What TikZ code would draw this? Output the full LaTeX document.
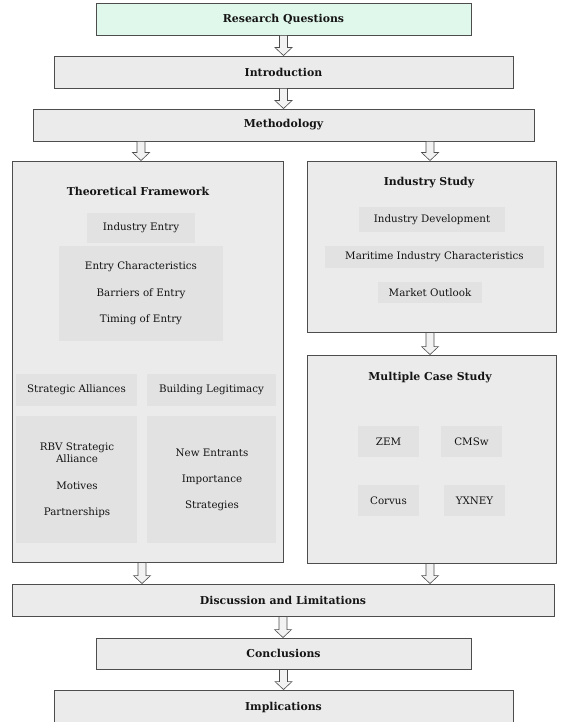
\documentclass[tikz,border=0pt]{standalone}
\usepackage{fontspec}
\setmainfont{DejaVu Serif}
\usetikzlibrary{calc}
\definecolor{boxfill}{HTML}{EBEBEB}
\definecolor{innerfill}{HTML}{E2E2E2}
\definecolor{boxline}{HTML}{4D4D4D}
\definecolor{rqfill}{HTML}{E0F7EB}
\definecolor{txt}{HTML}{141414}
\definecolor{arrfill}{HTML}{F2F2F2}
\begin{document}
\begin{tikzpicture}[x=1pt,y=-1pt,
  box/.style={draw=boxline, line width=0.9pt, fill=boxfill, inner sep=0pt,
    font=\fontsize{10.9}{13}\selectfont\bfseries, text=txt},
  inner/.style={fill=innerfill, inner sep=0pt, font=\fontsize{10.3}{12}\selectfont, text=txt},
  lbl/.style={inner sep=0pt, font=\fontsize{10.3}{12}\selectfont, text=txt},
  ttl/.style={inner sep=0pt, font=\fontsize{10.9}{13}\selectfont\bfseries, text=txt},
  fatarrow/.style={draw=boxline, fill=arrfill, line width=0.6pt, line join=miter,
    to path={let \p1=(\tikztostart), \p2=(\tikztotarget) in
      (\x1-4pt,\y1) -- (\x1+4pt,\y1) -- (\x1+4pt,\y2+8pt) -- (\x1+8.5pt,\y2+8pt)
      -- (\x1,\y2) -- (\x1-8.5pt,\y2+8pt) -- (\x1-4pt,\y2+8pt) -- cycle}}
]
\useasboundingbox (0,0) rectangle (561,722);

% main column
\node[box, fill=rqfill, minimum width=375pt, minimum height=32pt] (rq) at (283.5,19) {Research Questions};
\node[box, minimum width=459pt, minimum height=32pt] (intro) at (283.5,72) {Introduction};
\node[box, minimum width=501pt, minimum height=32pt] (meth) at (283.5,125) {Methodology};

% theoretical framework
\node[box, minimum width=271pt, minimum height=401pt] (tf) at (147.5,361.5) {};
\node[ttl] (tft) at (138,191) {Theoretical Framework};
\node[inner, minimum width=108pt, minimum height=30pt] (ie) at (141,228) {Industry Entry};
\node[inner, minimum width=164pt, minimum height=95pt] (eg) at (141,293.5) {};
\node[lbl] (ec) at (141,267) {Entry Characteristics};
\node[lbl] (be) at (141,294) {Barriers of Entry};
\node[lbl] (te) at (141,320) {Timing of Entry};
\node[inner, minimum width=121pt, minimum height=32pt] (sa) at (76.5,390) {Strategic Alliances};
\node[inner, minimum width=129pt, minimum height=32pt] (bl) at (211.5,390) {Building Legitimacy};
\node[inner, minimum width=121pt, minimum height=127pt] (rbvbox) at (76.5,479.5) {};
\node[inner, minimum width=129pt, minimum height=127pt] (nebox) at (211.5,479.5) {};
\node[lbl, align=center, font=\fontsize{10.3}{12}\selectfont] (rbv) at (77,453) {RBV Strategic\\Alliance};
\node[lbl] (mot) at (77,486) {Motives};
\node[lbl] (par) at (77,513) {Partnerships};
\node[lbl] (ne) at (212,453) {New Entrants};
\node[lbl] (imp) at (212,480) {Importance};
\node[lbl] (str) at (212,506) {Strategies};

% industry study
\node[box, minimum width=249pt, minimum height=171pt] (is) at (431.5,246.5) {};
\node[ttl] (ist) at (429,183) {Industry Study};
\node[inner, minimum width=146pt, minimum height=25pt] (idv) at (432,219.5) {Industry Development};
\node[inner, minimum width=219pt, minimum height=22pt] (mic) at (434.5,257) {Maritime Industry Characteristics};
\node[inner, minimum width=104pt, minimum height=21pt] (mo) at (430,292.5) {Market Outlook};

% multiple case study
\node[box, minimum width=249pt, minimum height=208pt] (mcs) at (431.5,459) {};
\node[ttl] (mcst) at (430,378) {Multiple Case Study};
\node[inner, minimum width=61pt, minimum height=31pt] (zem) at (388.5,441.5) {ZEM};
\node[inner, minimum width=61pt, minimum height=31pt] (cms) at (471.5,441.5) {CMSw};
\node[inner, minimum width=61pt, minimum height=31pt] (cor) at (388.5,500.5) {Corvus};
\node[inner, minimum width=61pt, minimum height=31pt] (yx) at (474.5,500.5) {YXNEY};

% bottom column
\node[box, minimum width=542pt, minimum height=32pt] (disc) at (283,600) {Discussion and Limitations};
\node[box, minimum width=375pt, minimum height=31pt] (conc) at (283.5,653.5) {Conclusions};
\node[box, minimum width=459pt, minimum height=34pt] (impl) at (283.5,707) {Implications};

% arrows
\draw[fatarrow] (rq.south) to (intro.north);
\draw[fatarrow] (intro.south) to (meth.north);
\draw[fatarrow] ([xshift=-6.5pt]tf.north |- meth.south) to (tf.north);
\draw[fatarrow] ([xshift=-1.5pt]is.north |- meth.south) to (is.north);
\draw[fatarrow] ([xshift=-1.5pt]is.south) to (mcs.north);
\draw[fatarrow] ([xshift=-5.5pt]tf.south) to (disc.north);
\draw[fatarrow] ([xshift=-1.5pt]mcs.south) to (disc.north);
\draw[fatarrow] (disc.south) to (conc.north);
\draw[fatarrow] (conc.south) to (impl.north);
\end{tikzpicture}
\end{document}
